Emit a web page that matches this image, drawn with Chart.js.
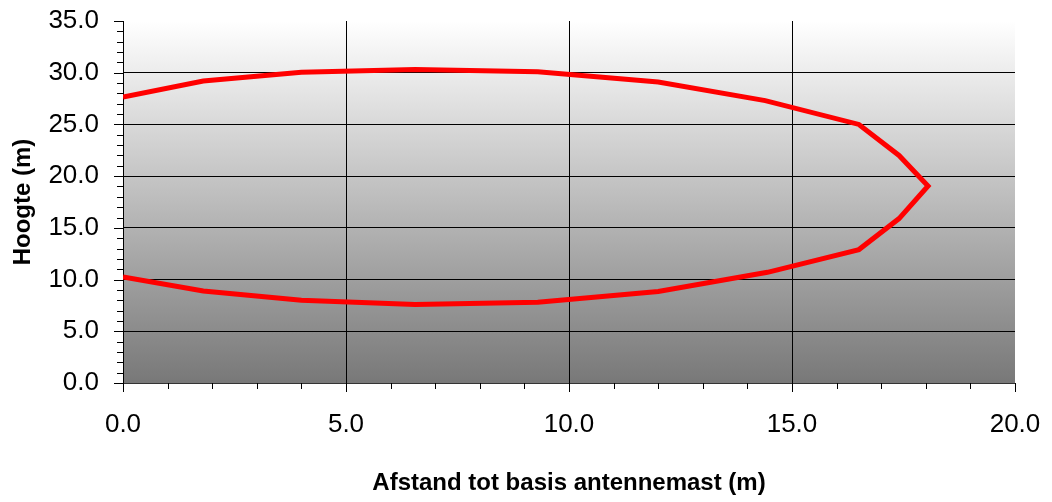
<!DOCTYPE html>
<html>
<head>
<meta charset="utf-8">
<script src="https://cdn.jsdelivr.net/npm/chart.js@4/dist/chart.umd.min.js"></script>
<style>
  html, body { margin: 0; padding: 0; background: #fff; }
  #wrap { width: 1052px; height: 502px; }
</style>
</head>
<body>
<div id="wrap"><canvas id="chart"></canvas></div>
<script>
// afstand tot de mast (x) en hoogte (y) van de contour
const afstand = [0, 1.8, 4.0, 6.55, 9.3, 12.0, 14.4, 16.5, 17.4, 18.05, 17.4, 16.5, 14.45, 12.0, 9.3, 6.55, 4.0, 1.8, 0];
const hoogte = [27.65, 29.2, 30.05, 30.3, 30.1, 29.1, 27.3, 25.0, 22.0, 19.05, 15.9, 12.9, 10.7, 8.85, 7.8, 7.6, 8.0, 8.9, 10.25];

const xTitle = 'Afstand tot basis antennemast (m)';
const yTitle = 'Hoogte (m)';
const xMax = 20, yMax = 35, majorStep = 5;

const punten = afstand.map((x, i) => ({ x: x, y: hoogte[i] }));

// grijs verloop achter het plotvlak
const achtergrond = {
  id: 'achtergrond',
  beforeDraw(chart) {
    const a = chart.chartArea;
    const ctx = chart.ctx;
    const g = ctx.createLinearGradient(0, a.top, 0, a.bottom);
    g.addColorStop(0, '#ffffff');
    g.addColorStop(1, '#787878');
    ctx.save();
    ctx.fillStyle = g;
    ctx.fillRect(a.left, a.top, a.right - a.left, a.bottom - a.top);
    ctx.restore();
  }
};

// korte en lange streepjes langs de assen
const streepjes = {
  id: 'streepjes',
  afterDraw(chart) {
    const ctx = chart.ctx;
    ctx.save();
    ctx.strokeStyle = '#000';
    ctx.lineWidth = 1;
    const xs = chart.scales.x, ys = chart.scales.y;
    xs.ticks.forEach(t => {
      const len = t.value % majorStep === 0 ? 9 : 6;
      const px = Math.round(xs.getPixelForValue(t.value)) + 0.5;
      ctx.beginPath();
      ctx.moveTo(px, xs.top);
      ctx.lineTo(px, xs.top + len);
      ctx.stroke();
    });
    ys.ticks.forEach(t => {
      const len = t.value % majorStep === 0 ? 9 : 6;
      const py = Math.round(ys.getPixelForValue(t.value)) + 0.5;
      ctx.beginPath();
      ctx.moveTo(ys.right - len, py);
      ctx.lineTo(ys.right, py);
      ctx.stroke();
    });
    ctx.restore();
  }
};

function gridKleur(max) {
  return function(c) {
    const v = c.tick.value;
    return (v % majorStep === 0 && v !== max) ? '#000' : 'rgba(0,0,0,0)';
  };
}

const tickFont = { family: 'Liberation Sans, Arial', size: 26 };
const titleFont = { family: 'Liberation Sans, Arial', size: 24, weight: 'bold' };

new Chart(document.getElementById('chart'), {
  type: 'scatter',
  data: {
    datasets: [{
      data: punten,
      showLine: true,
      borderColor: '#ff0000',
      borderWidth: 5,
      borderJoinStyle: 'miter',
      pointRadius: 0,
      clip: 0
    }]
  },
  options: {
    responsive: true,
    maintainAspectRatio: false,
    animation: false,
    layout: { padding: { top: 21, right: 37, bottom: 0, left: 0 } },
    plugins: { legend: { display: false }, tooltip: { enabled: false } },
    scales: {
      x: {
        type: 'linear', min: 0, max: xMax,
        afterFit(s) { s.height = 119; },
        ticks: {
          stepSize: 1, autoSkip: false, maxRotation: 0, color: '#000', font: tickFont, padding: 0,
          callback: v => v % majorStep === 0 ? v.toFixed(1) : ''
        },
        grid: { color: gridKleur(xMax), drawTicks: true, tickLength: 26, tickColor: 'rgba(0,0,0,0)' },
        border: { display: true, color: '#333', width: 1 },
        title: { display: true, text: xTitle, color: '#000', font: titleFont, padding: { top: 0, bottom: 4 } }
      },
      y: {
        type: 'linear', min: 0, max: yMax,
        afterFit(s) { s.width = 123; },
        ticks: {
          stepSize: 1, autoSkip: false, color: '#000', font: tickFont, padding: 0,
          callback: v => v % majorStep === 0 ? v.toFixed(1) : ''
        },
        grid: { color: gridKleur(yMax), drawTicks: true, tickLength: 24, tickColor: 'rgba(0,0,0,0)' },
        border: { display: true, color: '#000', width: 1 },
        title: { display: true, text: yTitle, color: '#000', font: titleFont, padding: { top: 9, bottom: 0 } }
      }
    }
  },
  plugins: [achtergrond, streepjes]
});
</script>
</body>
</html>
